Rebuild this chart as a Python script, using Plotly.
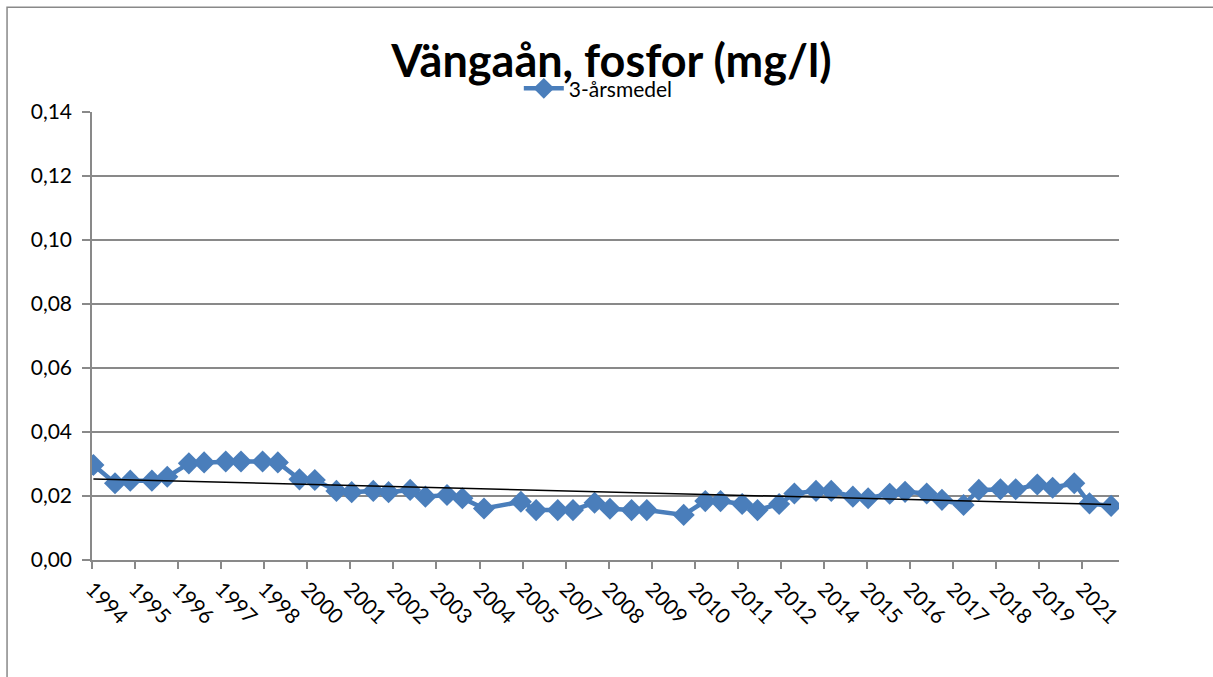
import numpy as np
import pandas as pd
import plotly.graph_objects as go

# ---- data ----
dates = [
    "1994-03-15", "1994-10-15", "1995-03-15", "1995-10-15", "1996-03-15", "1996-10-15",
    "1997-03-15", "1997-10-15", "1998-03-15", "1998-10-15", "1999-03-15", "1999-10-15",
    "2000-03-15", "2000-10-15", "2001-03-15", "2001-10-15", "2002-03-15", "2002-10-15",
    "2003-03-15", "2003-10-15", "2004-03-15", "2004-10-15", "2005-10-15", "2006-03-15",
    "2006-10-15", "2007-03-15", "2007-10-15", "2008-03-15", "2008-10-15", "2009-03-15",
    "2010-03-15", "2010-10-15", "2011-03-15", "2011-10-15", "2012-03-15", "2012-10-15",
    "2013-03-15", "2013-10-15", "2014-03-15", "2014-10-15", "2015-03-15", "2015-10-15",
    "2016-03-15", "2016-10-15", "2017-03-15", "2017-10-15", "2018-03-15", "2018-10-15",
    "2019-03-15", "2019-10-15", "2020-03-15", "2020-10-15", "2021-03-15", "2021-10-15",
]
values = [
    0.0297, 0.0240, 0.0248, 0.0248, 0.0260, 0.0302,
    0.0305, 0.0308, 0.0308, 0.0308, 0.0305, 0.0252,
    0.0250, 0.0216, 0.0212, 0.0216, 0.0212, 0.0219,
    0.0198, 0.0203, 0.0193, 0.0161, 0.0182, 0.0156,
    0.0156, 0.0156, 0.0179, 0.0160, 0.0156, 0.0156,
    0.0141, 0.0184, 0.0184, 0.0175, 0.0156, 0.0175,
    0.0208, 0.0216, 0.0216, 0.0198, 0.0193, 0.0207,
    0.0213, 0.0208, 0.0188, 0.0172, 0.0219, 0.0221,
    0.0221, 0.0236, 0.0226, 0.0240, 0.0177, 0.0169,
]
tick_labels = ["1994", "1995", "1996", "1997", "1998", "2000", "2001", "2002",
               "2003", "2004", "2005", "2007", "2008", "2009", "2010", "2011",
               "2012", "2014", "2015", "2016", "2017", "2018", "2019", "2021"]
series_name = "3-årsmedel"
title_text = "Vängaån, fosfor (mg/l)"

# ---- derived ----
x = pd.to_datetime(dates)
tick_vals = pd.date_range("1994-03-01", periods=len(tick_labels), freq="14MS")

# linear trend
xn = (x - x[0]).days.values.astype(float)
coef = np.polyfit(xn, np.array(values), 1)
trend_x = [x[0], x[-1]]
trend_y = [np.polyval(coef, xn[0]), np.polyval(coef, xn[-1])]

BLUE = "#4A7EBB"
GRID = "#898989"
FONT = "Lato, 'Open Sans', sans-serif"

fig = go.Figure()
fig.add_trace(go.Scatter(
    x=x, y=values, mode="lines+markers", name=series_name,
    line=dict(color=BLUE, width=4.5),
    marker=dict(symbol="diamond", size=17, color=BLUE),
))
fig.add_trace(go.Scatter(
    x=trend_x, y=trend_y, mode="lines", showlegend=False,
    line=dict(color="black", width=1.5),
))

fig.update_layout(
    width=1213, height=677,
    margin=dict(l=92, r=94, t=112, b=117),
    paper_bgcolor="white", plot_bgcolor="white",
    separators=", ",
    font=dict(family=FONT, size=21, color="black"),
    title=dict(text="<b>" + title_text + "</b>", x=0.504, xanchor="center",
               y=0.91, yanchor="middle",
               font=dict(family=FONT, size=45, color="black")),
    showlegend=True,
    legend=dict(orientation="h", x=0.493, xanchor="center", y=1.052, yanchor="middle",
                bgcolor="rgba(0,0,0,0)", font=dict(family=FONT, size=21),
                itemwidth=40),
    xaxis=dict(
        type="date", range=["1994-03-01", "2022-01-01"],
        tickmode="array", tickvals=tick_vals, ticktext=tick_labels,
        tickangle=45, ticks="outside", ticklen=7, tickcolor=GRID, tickwidth=1.5,
        showgrid=False, showline=True, linecolor=GRID, linewidth=1.5,
        zeroline=False, tickfont=dict(family=FONT, size=21),
    ),
    yaxis=dict(
        range=[0, 0.14], dtick=0.02, tickformat=".2f",
        ticks="outside", ticklen=8, tickcolor=GRID, tickwidth=1.5,
        showgrid=True, gridcolor=GRID, gridwidth=1.5,
        showline=True, linecolor=GRID, linewidth=1.5, zeroline=False,
        tickfont=dict(family=FONT, size=21), ticklabelstandoff=6,
    ),
    shapes=[dict(type="rect", xref="paper", yref="paper",
                 x0=(6.7 - 91.7) / 1027.6, x1=1.2, y0=-0.4, y1=(560.2 - 7.3) / 448.2,
                 line=dict(color=GRID, width=1.5), layer="below")],
)

fig.write_html("out.html", config={"displayModeBar": False},
               post_script="document.body.style.margin='0';")
